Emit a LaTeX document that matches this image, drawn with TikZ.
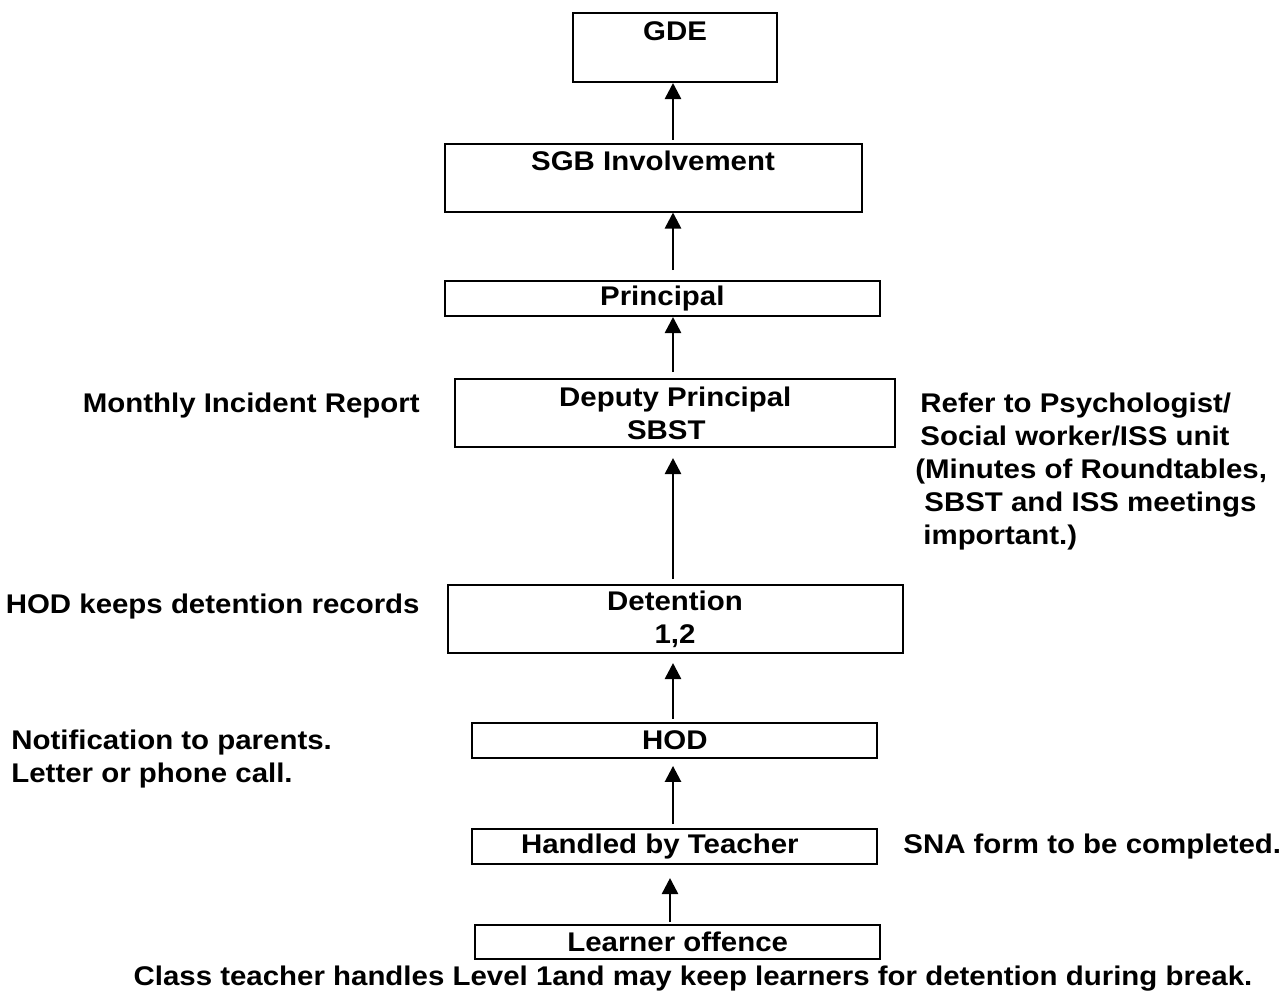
\documentclass[tikz,border=0pt]{standalone}
\usepackage{fontspec}
\setmainfont{Liberation Sans}[FakeStretch=1.09]
\usetikzlibrary{arrows.meta}
\begin{document}
\begin{tikzpicture}[x=0.5pt,y=-0.5pt]
\tikzstyle{every node}=[font=\fontsize{13.5}{16.5}\selectfont\bfseries, inner sep=1pt];
\tikzstyle{box}=[draw, line width=1pt, shape=rectangle, align=center];
\tikzstyle{arr}=[line width=1.3pt, -{Triangle[width=8pt,length=8pt]}];
\useasboundingbox (0,0) rectangle (1288,996);
\coordinate (axis) at (673,0);
\coordinate (axisb) at (670,0);
\node[box, minimum width=102pt, minimum height=34.5pt] (gde) at (675,47.5) {GDE\\ \vphantom{A}};
\node[box, minimum width=208.5pt, minimum height=34pt] (sgb) at (653,177.5) {SGB Involvement\\ \vphantom{A}};
\node[box, minimum width=217.5pt, minimum height=17.5pt] (principal) at (662.3,298.5) {Principal};
\node[box, minimum width=220pt, minimum height=34pt] (deputy) at (675.3,413) {Deputy Principal\\ SBST\hspace*{9pt}};
\node[box, minimum width=227.5pt, minimum height=34pt] (detention) at (675,619) {Detention\\ 1,2};
\node[box, minimum width=202.5pt, minimum height=17.5pt] (hod) at (674.8,740.4) {HOD};
\node[box, minimum width=202.5pt, minimum height=17.5pt] (teacher) at (674.8,846.5) {Handled by Teacher\hspace*{15pt}};
\node[box, minimum width=202.5pt, minimum height=17pt] (offence) at (677.7,942) {Learner offence};
\node[anchor=base east] (report) at (422,412) {Monthly Incident Report};
\node[anchor=base east] (records) at (422,613) {HOD keeps detention records};
\node[anchor=north west, align=left] (parents) at (9,728) {Notification to parents.\\ Letter or phone call.};
\node[anchor=north west, align=left] (refer) at (913,391) {\hspace*{2.5pt}Refer to Psychologist/\\ \hspace*{2.5pt}Social worker/ISS unit\\ (Minutes of Roundtables,\\ \hspace*{4.5pt}SBST and ISS meetings\\ \hspace*{4pt}important.)};
\node[anchor=base west] (sna) at (901,853) {SNA form to be completed.};
\node[anchor=base] (level) at (693,985) {Class teacher handles Level 1and may keep learners for detention during break.};
\draw[arr, shorten <=1pt, shorten >=6.5pt] (offence.north -| axisb) -- (teacher.south -| axisb);
\draw[arr, shorten <=2pt, shorten >=3.5pt] (teacher.north -| axis) -- (hod.south -| axis);
\draw[arr, shorten <=1.5pt, shorten >=4.5pt] (hod.north -| axis) -- (detention.south -| axis);
\draw[arr, shorten <=2.5pt, shorten >=5pt] (detention.north -| axis) -- (deputy.south -| axis);
\draw[arr, shorten <=3pt] (deputy.north -| axis) -- (principal.south -| axis);
\draw[arr, shorten <=5pt] (principal.north -| axis) -- (sgb.south -| axis);
\draw[arr, shorten <=1.5pt] (sgb.north -| axis) -- (gde.south -| axis);
\end{tikzpicture}
\end{document}
